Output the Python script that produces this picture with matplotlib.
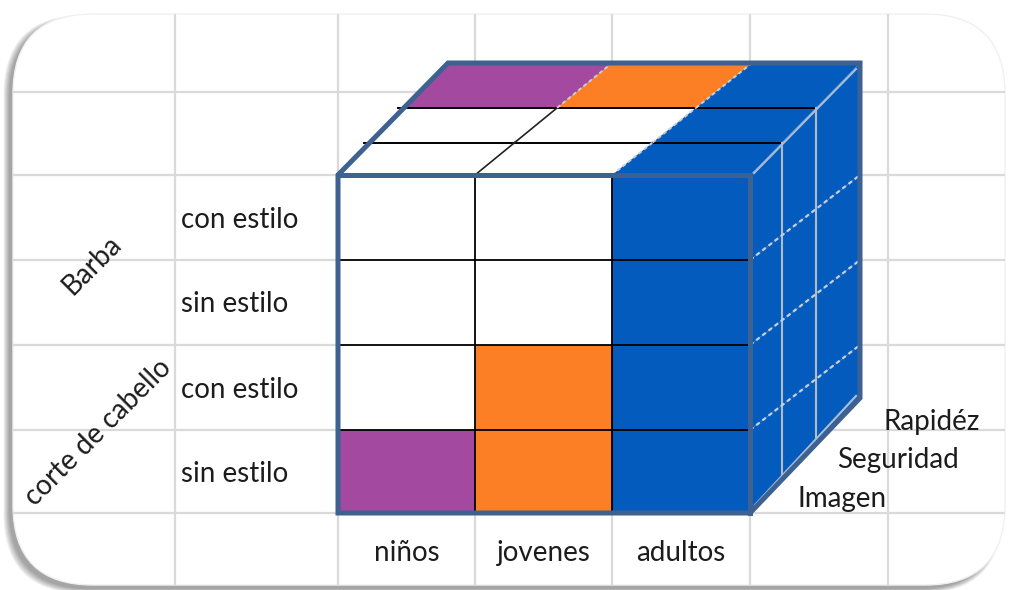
import matplotlib
matplotlib.use("Agg")
import matplotlib.pyplot as plt
from matplotlib.patches import Polygon, FancyBboxPatch

# categories
COLUMNS = ["niños", "jovenes", "adultos"]
ROWS = ["con estilo", "sin estilo", "con estilo", "sin estilo"]
GROUPS = ["Barba", "corte de cabello"]
DEPTH = ["Imagen", "Seguridad", "Rapidéz"]

# cell fills: w = white, p = purple, o = orange, b = blue
FRONT_FACE = [
    ["w", "w", "b"],
    ["w", "w", "b"],
    ["w", "o", "b"],
    ["p", "o", "b"],
]
TOP_FACE = [  # Imagen -> Rapidéz
    ["w", "w", "b"],
    ["w", "w", "b"],
    ["p", "o", "b"],
]
SIDE_FACE = [  # rows x depth
    ["b", "b", "b"],
    ["b", "b", "b"],
    ["b", "b", "b"],
    ["b", "b", "b"],
]

FILL = {"w": "#ffffff", "p": "#a3499f", "o": "#fc7f26", "b": "#035cbd"}
EDGE = "#3d6190"
GRID = "#dadada"
INK = "#1c1c1c"
LIGHT = "#c9ced8"

# sheet layout (pixels)
GRID_X = [175, 338, 475, 612, 750, 888]
GRID_Y = [92, 175, 260, 345, 430, 513]
FRONT_X = GRID_X[1:5]
FRONT_Y = GRID_Y[1:6]
TOP_BACK_X = [448, 612, 752, 860]
TOP_BACK_Y = 63
SIDE_BACK_X = 860
SIDE_BACK_Y = [63, 175, 260, 345, 398]
DEPTH_FRAC = [0.0, 0.29, 0.60, 1.0]


def top_pt(c, d):
    f = DEPTH_FRAC[d]
    x = FRONT_X[c] + f * (TOP_BACK_X[c] - FRONT_X[c])
    y = FRONT_Y[0] + f * (TOP_BACK_Y - FRONT_Y[0])
    return x, y


def side_pt(r, d):
    f = DEPTH_FRAC[d]
    x = FRONT_X[-1] + f * (SIDE_BACK_X - FRONT_X[-1])
    y = FRONT_Y[r] + f * (SIDE_BACK_Y[r] - FRONT_Y[r])
    return x, y


fig = plt.figure(figsize=(10.11, 5.90), dpi=100)
ax = fig.add_axes([0, 0, 1, 1])
ax.set_xlim(0, 1011)
ax.set_ylim(590, 0)
ax.axis("off")

# rounded sheet with a soft shadow down-left
for i in range(8):
    ax.add_patch(FancyBboxPatch(
        (13 - 4 - i * 0.8, 14 + 4 - i * 0.4), 990 + i * 1.2, 571 + i * 1.0,
        boxstyle="round,pad=0,rounding_size=80",
        facecolor="black", edgecolor="none", alpha=0.05, zorder=0))
frame = FancyBboxPatch((13, 14), 992, 571,
                       boxstyle="round,pad=0,rounding_size=80",
                       facecolor="white", edgecolor="#f0f0f0", lw=1, zorder=0.5)
ax.add_patch(frame)

for x in GRID_X:
    ln, = ax.plot([x, x], [0, 590], color=GRID, lw=1.6, zorder=1)
    ln.set_clip_path(frame)
for y in GRID_Y:
    ln, = ax.plot([0, 1011], [y, y], color=GRID, lw=1.6, zorder=1)
    ln.set_clip_path(frame)

# front face
for r in range(len(ROWS)):
    for c in range(len(COLUMNS)):
        ax.add_patch(Polygon(
            [(FRONT_X[c], FRONT_Y[r]), (FRONT_X[c + 1], FRONT_Y[r]),
             (FRONT_X[c + 1], FRONT_Y[r + 1]), (FRONT_X[c], FRONT_Y[r + 1])],
            facecolor=FILL[FRONT_FACE[r][c]], edgecolor="none", zorder=2))

# top face
for d in range(len(DEPTH)):
    for c in range(len(COLUMNS)):
        ax.add_patch(Polygon(
            [top_pt(c, d), top_pt(c + 1, d), top_pt(c + 1, d + 1), top_pt(c, d + 1)],
            facecolor=FILL[TOP_FACE[d][c]], edgecolor="none", zorder=2))

# side face
for r in range(len(ROWS)):
    for d in range(len(DEPTH)):
        ax.add_patch(Polygon(
            [side_pt(r, d), side_pt(r, d + 1), side_pt(r + 1, d + 1), side_pt(r + 1, d)],
            facecolor=FILL[SIDE_FACE[r][d]], edgecolor="none", zorder=2))

# cell lines
for c in range(1, len(COLUMNS)):
    ax.plot([FRONT_X[c]] * 2, [FRONT_Y[0], FRONT_Y[-1]], color="black", lw=1.3, zorder=3)
for r in range(1, len(ROWS)):
    ax.plot([FRONT_X[0], FRONT_X[-1]], [FRONT_Y[r]] * 2, color="black", lw=1.3, zorder=3)

for d in range(1, len(DEPTH)):
    (x0, y0), (x1, y1) = top_pt(0, d), top_pt(len(COLUMNS), d)
    ax.plot([x0 - 6, x1], [y0, y1], color="black", lw=1.4, zorder=3)
for c in range(1, len(COLUMNS)):
    for d in range(len(DEPTH)):
        (x0, y0), (x1, y1) = top_pt(c, d), top_pt(c, d + 1)
        plain = TOP_FACE[d][c - 1] == "w" and TOP_FACE[d][c] == "w"
        if plain:
            ax.plot([x0, x1], [y0, y1], color="#222222", lw=1.2, zorder=3)
        else:
            ax.plot([x0, x1], [y0, y1], color=LIGHT, lw=1.4,
                    ls=(0, (2, 1.5)), zorder=3)

for d in range(1, len(DEPTH)):
    (x0, y0), (x1, y1) = side_pt(0, d), side_pt(len(ROWS), d)
    ax.plot([x0, x1], [y0, y1], color="#b4b9c2", lw=1.5, zorder=3)
for r in range(1, len(ROWS)):
    (x0, y0), (x1, y1) = side_pt(r, 0), side_pt(r, len(DEPTH))
    ax.plot([x0, x1], [y0, y1], color=LIGHT, lw=1.6, ls=(0, (2, 1.5)), zorder=3)

# bevel highlights on the side face
(x0, y0), (x1, y1) = side_pt(0, 0), side_pt(0, len(DEPTH))
ax.plot([x0 + 4, x1 - 4], [y0 - 2, y1 + 6], color="#a9bcd6", lw=1.6, zorder=3)
(x0, y0), (x1, y1) = side_pt(len(ROWS), 0), side_pt(len(ROWS), len(DEPTH))
ax.plot([x0 + 5, x1 - 4], [y0 - 8, y1 - 2], color="#a9bcd6", lw=1.6, zorder=3)

# outline
outline = [(FRONT_X[0], FRONT_Y[-1]), (FRONT_X[0], FRONT_Y[0]), top_pt(0, 3),
           top_pt(3, 3), side_pt(4, 3), side_pt(4, 0)]
ax.add_patch(Polygon(outline, closed=True, facecolor="none", edgecolor=EDGE,
                     lw=3.6, joinstyle="miter", zorder=4))
ax.plot([FRONT_X[0], FRONT_X[-1]], [FRONT_Y[0]] * 2, color=EDGE, lw=3.6, zorder=4)
ax.plot([FRONT_X[-1]] * 2, [FRONT_Y[0], FRONT_Y[-1]], color=EDGE, lw=3.6, zorder=4)

# labels
font = dict(family=["Lato", "DejaVu Sans"], fontsize=20, color=INK, zorder=5)
for r, label in enumerate(ROWS):
    ax.text(181, (FRONT_Y[r] + FRONT_Y[r + 1]) / 2 + 2, label, ha="left", va="center", **font)
for c, label in enumerate(COLUMNS):
    ax.text((FRONT_X[c] + FRONT_X[c + 1]) / 2, 553, label, ha="center", va="center", **font)
ax.text(92, 265, GROUPS[0], rotation=45, ha="center", va="center",
        rotation_mode="anchor", **font)
ax.text(98, 432, GROUPS[1], rotation=45, ha="center", va="center",
        rotation_mode="anchor", **font)
for label, x, y in zip(DEPTH, [798, 837, 884], [499, 460, 422]):
    ax.text(x, y, label, ha="left", va="center", **font)

fig.savefig("out.png", dpi=100, facecolor="white")
